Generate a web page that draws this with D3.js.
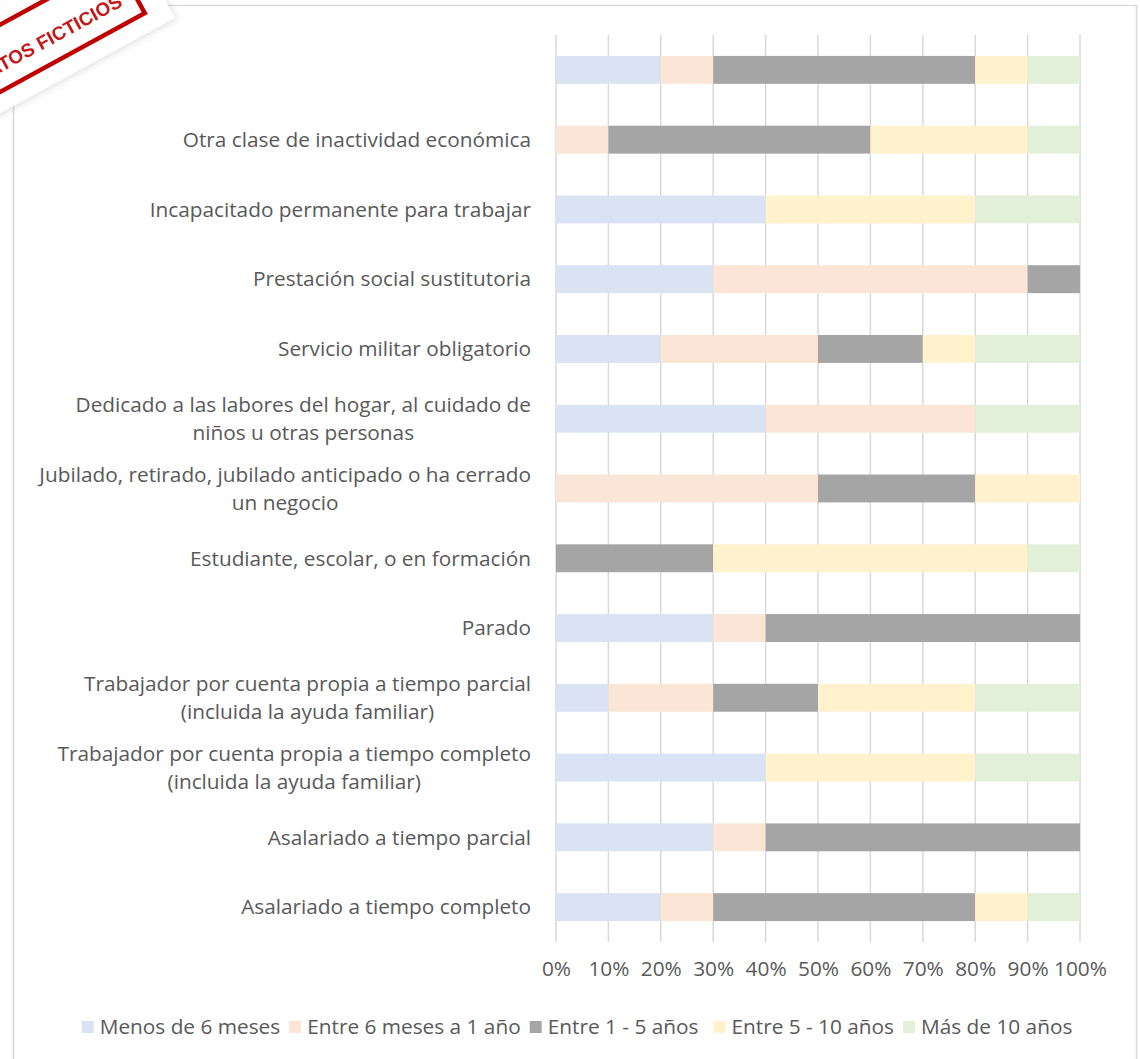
<!DOCTYPE html>
<html><head><meta charset="utf-8">
<script src="https://cdn.jsdelivr.net/npm/d3@7"></script>
<style>body{margin:0;background:#fff;} svg{display:block;}</style>
</head><body>
<svg id="c" width="1140" height="1059"></svg>
<script>
const categories = [
  "",
  "Otra clase de inactividad económica",
  "Incapacitado permanente para trabajar",
  "Prestación social sustitutoria",
  "Servicio militar obligatorio",
  "Dedicado a las labores del hogar, al cuidado de\nniños u otras personas",
  "Jubilado, retirado, jubilado anticipado o ha cerrado\nun negocio",
  "Estudiante, escolar, o en formación",
  "Parado",
  "Trabajador por cuenta propia a tiempo parcial\n(incluida la ayuda familiar)",
  "Trabajador por cuenta propia a tiempo completo\n(incluida la ayuda familiar)",
  "Asalariado a tiempo parcial",
  "Asalariado a tiempo completo"
];
const seriesNames = ["Menos de 6 meses","Entre 6 meses a 1 año","Entre 1 - 5 años","Entre 5 - 10 años","Más de 10 años"];
const menos6 =   [20, 0,40,30,20,40, 0, 0,30,10,40,30,20];
const entre6a1 = [10,10, 0,60,30,40,50, 0,10,20, 0,10,10];
const entre1a5 = [50,50, 0,10,20, 0,30,30,60,20, 0,60,50];
const entre5a10= [10,30,40, 0,10, 0,20,60, 0,30,40, 0,10];
const mas10 =    [10,10,20, 0,20,20, 0,10, 0,20,20, 0,10];
const tickLabels = ["0%","10%","20%","30%","40%","50%","60%","70%","80%","90%","100%"];
const seriesColors = ["#dae3f3","#fbe5d6","#a5a5a5","#fff2cc","#e2f0d9"];

const allSeries = [menos6, entre6a1, entre1a5, entre5a10, mas10];
const rows = categories.map((c,i)=>{const o={cat:c,idx:i}; seriesNames.forEach((s,j)=>o[s]=allSeries[j][i]); return o;});
const stacked = d3.stack().keys(seriesNames)(rows);

const svg = d3.select("#c");
const FONT = "'Open Sans', sans-serif";
const FS = 20.8;
const TXT = "#595959";

// frame
svg.append("rect").attr("x",13.5).attr("y",5.5).attr("width",1123).attr("height",1100)
  .attr("fill","#fff").attr("stroke","#d9d9d9").attr("stroke-width",1.5);

const x = d3.scaleLinear().domain([0,100]).range([556,1080]);
const y = d3.scaleBand().domain(d3.range(categories.length)).range([35,942]).paddingInner(0.6).paddingOuter(0.3);

// gridlines
svg.append("g").selectAll("line").data(d3.range(0,101,10)).join("line")
  .attr("x1",d=>x(d)).attr("x2",d=>x(d)).attr("y1",35).attr("y2",942)
  .attr("stroke","#d9d9d9").attr("stroke-width",1.5);

// bars
svg.append("g").selectAll("g").data(stacked).join("g")
  .attr("fill",(d,i)=>seriesColors[i])
  .selectAll("rect").data(d=>d).join("rect")
  .attr("x",d=>x(d[0])).attr("width",d=>x(d[1])-x(d[0]))
  .attr("y",(d,i)=>y(i)).attr("height",y.bandwidth());

// x axis labels
const xAxis = d3.axisBottom(x).tickValues(d3.range(0,101,10)).tickFormat((d,i)=>tickLabels[i]).tickSize(0).tickPadding(0);
const gx = svg.append("g").attr("transform","translate(0,961)").call(xAxis);
gx.select(".domain").remove();
gx.selectAll("text").attr("font-family",FONT).attr("font-size",FS).attr("fill",TXT).attr("dy","0.71em");

// category labels
const labRight = 531;
const lg = svg.append("g");
categories.forEach((c,i)=>{
  const lines = c.split("\n");
  const cy = y(i)+y.bandwidth()/2;
  const t = lg.append("text").attr("font-family",FONT).attr("font-size",FS).attr("fill",TXT);
  if(lines.length===1){
    t.attr("x",labRight).attr("y",cy).attr("dy","0.35em").attr("text-anchor","end").text(c);
  } else {
    const spans = lines.map((l,k)=>t.append("tspan").attr("y",cy+(k-(lines.length-1)/2)*28).attr("dy","0.35em").text(l));
    const w = d3.max(spans, s=>s.node().getComputedTextLength());
    const cx = labRight - w/2;
    t.attr("text-anchor","middle");
    spans.forEach(s=>s.attr("x",cx));
  }
});

// legend
const leg = svg.append("g");
const items = [];
let cur = 0;
seriesNames.forEach((s,i)=>{
  const g = leg.append("g");
  g.append("rect").attr("x",0).attr("y",-6).attr("width",12).attr("height",12).attr("fill",seriesColors[i]);
  const t = g.append("text").attr("x",18).attr("y",0).attr("dy","0.35em").attr("font-family",FONT).attr("font-size",FS).attr("fill",TXT).text(s);
  const w = 18 + t.node().getComputedTextLength();
  items.push({g,off:cur});
  cur += w + (i===2?15:9);
});
const totalW = cur - 9;
const startX = 577 - totalW/2;
items.forEach(it=>it.g.attr("transform",`translate(${startX+it.off},1027)`));

// stamp
const defs = svg.append("defs");
const f = defs.append("filter").attr("id","sh").attr("x","-20%").attr("y","-40%").attr("width","140%").attr("height","180%");
f.append("feDropShadow").attr("dx",2).attr("dy",3).attr("stdDeviation",3).attr("flood-color","#000").attr("flood-opacity",0.10);
const st = svg.append("g").attr("transform","translate(20,47.5) rotate(-28.6)");
st.append("rect").attr("x",-160).attr("y",-44).attr("width",310).attr("height",92).attr("fill","#fff").attr("filter","url(#sh)");
st.append("rect").attr("x",-126).attr("y",-29.5).attr("width",252).attr("height",59).attr("fill","none").attr("stroke","#c00000").attr("stroke-width",4.5);
st.append("text").attr("x",111).attr("y",6).attr("dy","0.35em").attr("text-anchor","end")
  .attr("font-family","'Liberation Sans', Arial, sans-serif").attr("font-weight","bold").attr("font-size",19)
  .attr("fill","#c00000").attr("opacity",0.9).text("DATOS FICTICIOS");
</script>
</body></html>
